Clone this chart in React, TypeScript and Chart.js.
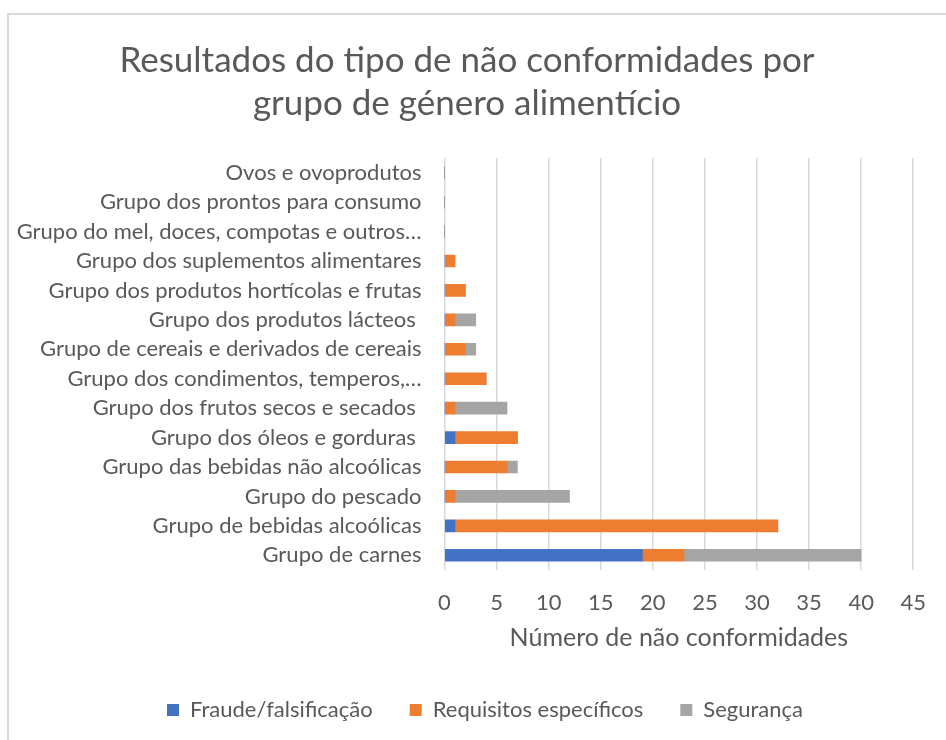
import React, { useEffect, useRef } from 'react';
import { Chart, registerables } from 'chart.js';

Chart.register(...registerables);

const titleLines = ['Resultados do tipo de não conformidades por', 'grupo de género alimentício'];
const axisTitle = 'Número de não conformidades';

const categories = [
  'Ovos e ovoprodutos',
  'Grupo dos prontos para consumo',
  'Grupo do mel, doces, compotas e outros…',
  'Grupo dos suplementos alimentares',
  'Grupo dos produtos hortícolas e frutas',
  'Grupo dos produtos lácteos ',
  'Grupo de cereais e derivados de cereais',
  'Grupo dos condimentos, temperos,…',
  'Grupo dos frutos secos e secados ',
  'Grupo dos óleos e gorduras ',
  'Grupo das bebidas não alcoólicas',
  'Grupo do pescado',
  'Grupo de bebidas alcoólicas',
  'Grupo de carnes',
];

const seriesNames = ['Fraude/falsificação', 'Requisitos específicos', 'Segurança'];
const fraude = [0, 0, 0, 0, 0, 0, 0, 0, 0, 1, 0, 0, 1, 19];
const requisitos = [0, 0, 0, 1, 2, 1, 2, 4, 1, 6, 6, 1, 31, 4];
const seguranca = [0, 0, 0, 0, 0, 2, 1, 0, 5, 0, 1, 11, 0, 17];

const xMin = 0;
const xMax = 45;
const xStep = 5;

const FONT = 'Lato';
const TEXT = '#595959';
const GRID = '#d9d9d9';
const COLORS = ['#4472C4', '#ED7D31', '#A5A5A5'];

const titlePlugin = {
  id: 'customTitle',
  afterLayout(chart: any) {
    // shift the legend's centre to match the reference
    if (chart.legend) chart.legend.left = 55;
  },
  afterDraw(chart: any) {
    const ctx = chart.ctx;
    ctx.save();
    ctx.font = `35px ${FONT}`;
    ctx.fillStyle = TEXT;
    ctx.textAlign = 'center';
    ctx.textBaseline = 'middle';
    titleLines.forEach((line, i) => ctx.fillText(line, 467, 61 + i * 43));
    ctx.restore();
  },
};

export default function App() {
  const ref = useRef<HTMLCanvasElement | null>(null);

  useEffect(() => {
    document.body.style.overflow = 'hidden';
    const canvas = ref.current;
    if (!canvas) return;
    const data = [fraude, requisitos, seguranca];
    const chart = new Chart(canvas, {
      type: 'bar',
      data: {
        labels: categories,
        datasets: seriesNames.map((name, i) => ({
          label: name,
          data: data[i],
          backgroundColor: COLORS[i],
          borderWidth: 0,
          barThickness: 12,
        })),
      },
      options: {
        indexAxis: 'y',
        animation: false,
        responsive: false,
        maintainAspectRatio: false,
        layout: { padding: { top: 158, left: 15, right: 31, bottom: 9 } },
        scales: {
          x: {
            stacked: true,
            min: xMin,
            max: xMax,
            ticks: { stepSize: xStep, color: TEXT, font: { family: FONT, size: 22 }, padding: 20 },
            grid: { color: GRID, lineWidth: 1.5, drawTicks: false },
            border: { display: false },
            title: {
              display: true,
              text: axisTitle,
              color: TEXT,
              font: { family: FONT, size: 25 },
              padding: { top: 0, bottom: 9 },
            },
            afterFit: (s: any) => {
              s.height = 92;
            },
          },
          y: {
            stacked: true,
            ticks: { color: TEXT, font: { family: FONT, size: 22 }, padding: 23 },
            grid: { display: false, drawTicks: false },
            border: { display: false },
            afterFit: (s: any) => {
              s.width = 429.5;
            },
          },
        },
        plugins: {
          legend: {
            position: 'bottom',
            labels: { boxWidth: 12, boxHeight: 12, padding: 37, color: TEXT, font: { family: FONT, size: 22 } },
          },
          tooltip: { enabled: false },
        },
      },
      plugins: [titlePlugin],
    });
    return () => chart.destroy();
  }, []);

  return (
    <div>
      <div
        style={{
          position: 'fixed',
          left: 7,
          top: 13,
          right: 0,
          bottom: 0,
          borderTop: `2px solid ${GRID}`,
          borderLeft: `2px solid ${GRID}`,
          background: '#fff',
        }}
      />
      <canvas ref={ref} width={946} height={740} style={{ position: 'fixed', left: 0, top: 0 }} />
    </div>
  );
}
